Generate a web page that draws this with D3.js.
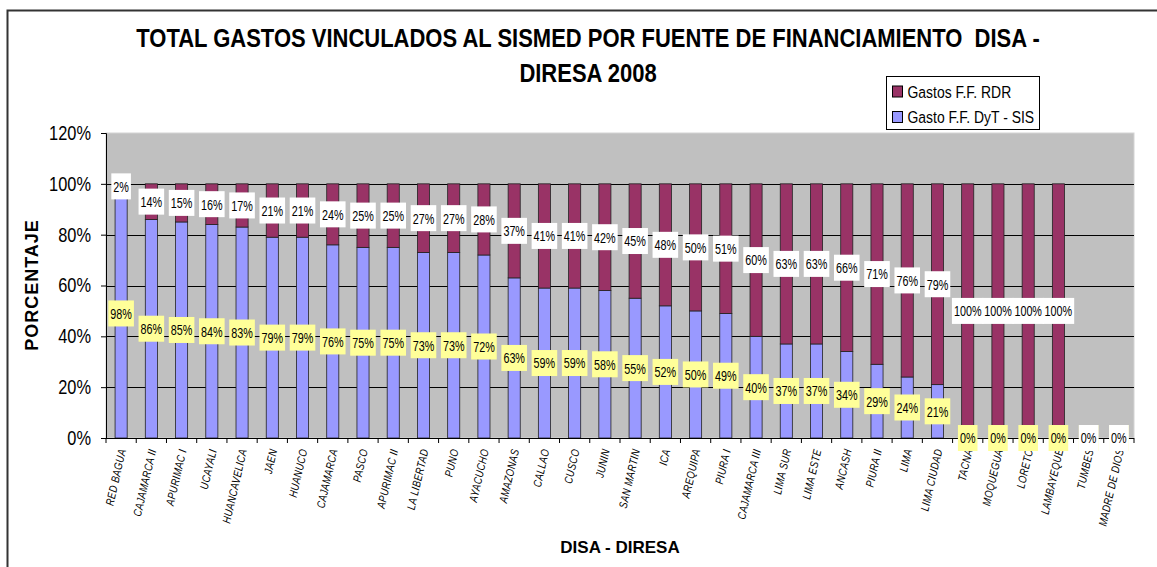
<!DOCTYPE html>
<html>
<head>
<meta charset="utf-8">
<script src="https://d3js.org/d3.v7.min.js"></script>
<style>
  body { margin: 0; background: #fff; }
  svg { display: block; }
  text { font-family: "Liberation Sans", Arial, sans-serif; }
</style>
</head>
<body>
<div id="chart"></div>
<script>
// DISA / DIRESA units, left to right
var categories = ["RED BAGUA", "CAJAMARCA II", "APURIMAC I", "UCAYALI", "HUANCAVELICA", "JAEN",
  "HUANUCO", "CAJAMARCA", "PASCO", "APURIMAC II", "LA LIBERTAD", "PUNO", "AYACUCHO", "AMAZONAS",
  "CALLAO", "CUSCO", "JUNIN", "SAN MARTIN", "ICA", "AREQUIPA", "PIURA I", "CAJAMARCA III",
  "LIMA SUR", "LIMA ESTE", "ANCASH", "PIURA II", "LIMA", "LIMA CIUDAD", "TACNA", "MOQUEGUA",
  "LORETO", "LAMBAYEQUE", "TUMBES", "MADRE DE DIOS"];

// share of spending, in percent
var gastoDyT = [98, 86, 85, 84, 83, 79, 79, 76, 75, 75, 73, 73, 72, 63, 59, 59, 58, 55, 52, 50,
  49, 40, 37, 37, 34, 29, 24, 21, 0, 0, 0, 0, 0, 0];
var gastoRDR = [2, 14, 15, 16, 17, 21, 21, 24, 25, 25, 27, 27, 28, 37, 41, 41, 42, 45, 48, 50,
  51, 60, 63, 63, 66, 71, 76, 79, 100, 100, 100, 100, 0, 0];

var yTicks = [0, 20, 40, 60, 80, 100, 120];

var seriesNames = ["Gastos F.F. RDR", "Gasto F.F. DyT - SIS"];
var colorRDR = "#993366",
    colorDyT = "#9999ff";

var width = 1157, height = 567;
var plot = { left: 106, right: 1134, top: 133, bottom: 438 };
var squeeze = 0.82;   // the original picture is narrower than tall, text looks condensed

var rows = categories.map(function(c, i) {
  return { name: c, dyt: gastoDyT[i], rdr: gastoRDR[i] };
});

var svg = d3.select("#chart").append("svg")
  .attr("width", width)
  .attr("height", height);

// condensed text placed at (px, py)
function narrowText(parent, px, py, str, size, k) {
  return parent.append("g")
      .attr("transform", "translate(" + px + "," + py + ") scale(" + (k || squeeze) + ",1)")
    .append("text")
      .attr("font-size", size)
      .text(str);
}

// outer chart frame (only top and left edges show in the picture)
svg.append("path")
  .attr("d", "M7.5,570V10.5H1160")
  .attr("fill", "none")
  .attr("stroke", "#333")
  .attr("stroke-width", 2);

var x = d3.scaleBand()
  .domain(categories)
  .range([plot.left, plot.right])
  .padding(0);

var y = d3.scaleLinear()
  .domain([0, 120])
  .range([plot.bottom, plot.top]);

var barW = x.bandwidth() * 0.4;
var cx = function(d) { return x(d.name) + x.bandwidth() / 2; };

// plot background
svg.append("rect")
  .attr("x", plot.left)
  .attr("y", plot.top)
  .attr("width", plot.right - plot.left)
  .attr("height", plot.bottom - plot.top)
  .attr("fill", "#c0c0c0")
  .attr("stroke", "#d4d4d4");

// gridlines
svg.append("g")
  .selectAll("line")
  .data(yTicks.filter(function(t) { return t > 0 && t < 120; }))
  .join("line")
    .attr("x1", plot.left)
    .attr("x2", plot.right)
    .attr("y1", function(d) { return Math.round(y(d)) + 0.5; })
    .attr("y2", function(d) { return Math.round(y(d)) + 0.5; })
    .attr("stroke", "#000")
    .attr("stroke-width", 1);

// stacked bars
var bars = svg.append("g");
bars.selectAll("rect.dyt")
  .data(rows.filter(function(d) { return d.dyt > 0; }))
  .join("rect")
    .attr("class", "dyt")
    .attr("x", function(d) { return cx(d) - barW / 2; })
    .attr("y", function(d) { return y(d.dyt); })
    .attr("width", barW)
    .attr("height", function(d) { return y(0) - y(d.dyt); })
    .attr("fill", colorDyT)
    .attr("stroke", "#222")
    .attr("stroke-width", 0.8);

bars.selectAll("rect.rdr")
  .data(rows.filter(function(d) { return d.rdr > 0; }))
  .join("rect")
    .attr("class", "rdr")
    .attr("x", function(d) { return cx(d) - barW / 2; })
    .attr("y", function(d) { return y(d.dyt + d.rdr); })
    .attr("width", barW)
    .attr("height", function(d) { return y(d.dyt) - y(d.dyt + d.rdr); })
    .attr("fill", colorRDR)
    .attr("stroke", "#222")
    .attr("stroke-width", 0.8);

// y axis
var yAxis = d3.axisLeft(y)
  .tickValues(yTicks)
  .tickFormat(function(d) { return d + "%"; })
  .tickSize(5)
  .tickPadding(10);

var gy = svg.append("g")
  .attr("transform", "translate(" + plot.left + ",0)")
  .call(yAxis);
gy.select(".domain").attr("stroke", "#000");
gy.selectAll(".tick line").attr("stroke", "#000");
gy.selectAll(".tick text")
  .attr("font-size", 20)
  .attr("font-family", null)
  .attr("fill", "#000")
  .attr("x", -15 / squeeze)
  .attr("transform", "scale(" + squeeze + ",1)");

// x axis: ticks sit on the band boundaries
var bounds = categories.map(function(c) { return x(c); }).concat([plot.right]);
var gx = svg.append("g");
gx.append("line")
  .attr("x1", plot.left)
  .attr("x2", plot.right)
  .attr("y1", plot.bottom + 0.5)
  .attr("y2", plot.bottom + 0.5)
  .attr("stroke", "#000");
gx.selectAll("line.tick")
  .data(bounds)
  .join("line")
    .attr("class", "tick")
    .attr("x1", function(d) { return d; })
    .attr("x2", function(d) { return d; })
    .attr("y1", plot.bottom)
    .attr("y2", plot.bottom + 5)
    .attr("stroke", "#000");

gx.selectAll("text")
  .data(rows)
  .join("text")
    .attr("transform", function(d) {
      return "translate(" + (cx(d) + 5) + "," + (plot.bottom + 12) + ") rotate(-77) scale(0.8,1)";
    })
    .attr("text-anchor", "end")
    .attr("font-style", "italic")
    .attr("font-size", 11.5)
    .attr("letter-spacing", 0.5)
    .attr("fill", "#000")
    .text(function(d) { return d.name; });

// data labels: DyT first, RDR on top (the white boxes cover the yellow ones)
var labK = 0.72;
function drawLabels(cls, valueFn, midFn, fill) {
  var g = svg.append("g").attr("class", cls);
  var lab = g.selectAll("g")
    .data(rows)
    .join("g")
      .attr("transform", function(d) { return "translate(" + cx(d) + "," + y(midFn(d)) + ")"; });
  lab.append("rect").attr("fill", fill);
  lab.append("text")
    .attr("text-anchor", "middle")
    .attr("dy", "0.36em")
    .attr("font-size", 15)
    .attr("fill", "#000")
    .attr("transform", "scale(" + labK + ",1)")
    .text(function(d) { return valueFn(d) + "%"; });
  lab.each(function() {
    var t = d3.select(this).select("text").node();
    var w = t.getComputedTextLength() * labK + 4;
    d3.select(this).select("rect")
      .attr("x", -w / 2)
      .attr("y", -13)
      .attr("width", w)
      .attr("height", 26);
  });
}

drawLabels("lab-dyt", function(d) { return d.dyt; }, function(d) { return d.dyt / 2; }, "#ffff99");
drawLabels("lab-rdr", function(d) { return d.rdr; }, function(d) { return d.dyt + d.rdr / 2; }, "#ffffff");

// title
narrowText(svg, 588, 47, "TOTAL GASTOS VINCULADOS AL SISMED POR FUENTE DE FINANCIAMIENTO\u00a0 DISA -", 25, 0.88)
  .attr("text-anchor", "middle")
  .attr("font-weight", "bold");
narrowText(svg, 588, 82, "DIRESA 2008", 25, 0.88)
  .attr("text-anchor", "middle")
  .attr("font-weight", "bold");

// axis titles
svg.append("text")
  .attr("transform", "translate(38,285) rotate(-90)")
  .attr("text-anchor", "middle")
  .attr("font-weight", "bold")
  .attr("font-size", 18)
  .attr("letter-spacing", 1)
  .text("PORCENTAJE");

svg.append("text")
  .attr("x", 620)
  .attr("y", 553)
  .attr("text-anchor", "middle")
  .attr("font-weight", "bold")
  .attr("font-size", 17)
  .text("DISA - DIRESA");

// legend
var legend = svg.append("g").attr("transform", "translate(886.5,76.5)");
legend.append("rect")
  .attr("width", 153)
  .attr("height", 53)
  .attr("fill", "#fff")
  .attr("stroke", "#000");
var items = legend.selectAll("g")
  .data([{ name: seriesNames[0], color: colorRDR }, { name: seriesNames[1], color: colorDyT }])
  .join("g")
    .attr("transform", function(d, i) { return "translate(6," + (9.5 + i * 25.5) + ")"; });
items.append("rect")
  .attr("width", 10)
  .attr("height", 11)
  .attr("fill", function(d) { return d.color; })
  .attr("stroke", "#000");
items.each(function(d) {
  narrowText(d3.select(this), 15, 11.5, d.name, 17);
});
</script>
</body>
</html>
